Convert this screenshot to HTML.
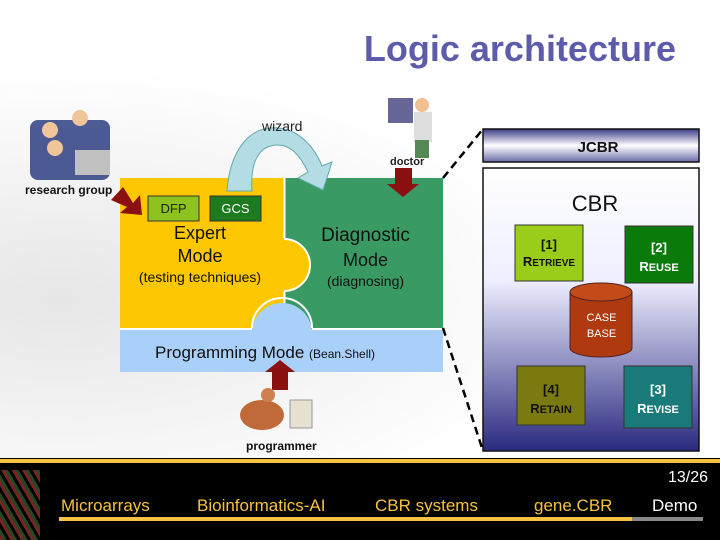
<!DOCTYPE html>
<html><head><meta charset="utf-8"><style>
body{margin:0;width:720px;height:540px;overflow:hidden;background:#fff;font-family:"Liberation Sans",sans-serif;position:relative}
.a{position:absolute}
</style></head><body>
<div class="a" style="left:0;top:0;width:720px;height:458px;background:radial-gradient(ellipse at 60px 300px,#e6e6e6,#fff 55%)"></div>
<div class="a" style="left:280px;top:28px;width:396px;text-align:right;font-size:36px;font-weight:bold;color:#5c5cab">Logic architecture</div>
<svg class="a" style="left:0;top:0" width="720" height="540">
<defs>
<linearGradient id="g1" x1="0" y1="0" x2="0" y2="1"><stop offset="0" stop-color="#fff"/><stop offset="0.4" stop-color="#eef" /><stop offset="1" stop-color="#2a2a80"/></linearGradient>
<linearGradient id="g2" x1="0" y1="0" x2="0" y2="1"><stop offset="0" stop-color="#3a3a88"/><stop offset="0.5" stop-color="#fff"/><stop offset="1" stop-color="#6a6aa8"/></linearGradient>
</defs>
<rect x="120" y="178" width="165" height="152" fill="#fdc700"/>
<rect x="284" y="178" width="159" height="152" fill="#3a9a64"/>
<circle cx="284" cy="265" r="26" fill="#fdc700"/>
<line x1="284.5" y1="178" x2="284.5" y2="238" stroke="#fff" stroke-width="2"/>
<line x1="284.5" y1="292" x2="284.5" y2="330" stroke="#fff" stroke-width="2"/>
<path d="M284 239 A26 26 0 0 1 284 291" fill="none" stroke="#fff" stroke-width="2"/>
<rect x="120" y="329" width="323" height="43" fill="#a8d0f8"/>
<circle cx="282" cy="333" r="30" fill="#a8d0f8"/>
<path d="M252 328 A30 30 0 0 1 312 328" fill="none" stroke="#fff" stroke-width="2"/>
<line x1="120" y1="329" x2="252" y2="329" stroke="#fff" stroke-width="2"/>
<line x1="312" y1="329" x2="443" y2="329" stroke="#fff" stroke-width="2"/>
<rect x="148" y="196" width="51" height="25" fill="#8dc21f" stroke="#333"/>
<rect x="210" y="196" width="51" height="25" fill="#1e7a1e" stroke="#333"/>
<path d="M227 191 C230 150 250 125 278 128 C300 130 315 148 322 166 L332 162 L323 190 L298 178 L308 172 C300 155 290 145 278 145 C260 145 250 160 252 191 Z" fill="#b4dce4" stroke="#6aa" stroke-width="1"/>
<path d="M395 168 H412 V184 H419 L403 197 L387 184 H395 Z" fill="#8b1010"/>
<path d="M111 200 L123 187 L133 203 L140 195 L142 215 L120 213 L127 207 Z" fill="#8b1010"/>
<path d="M272 390 H288 V372 H295 L280 360 L265 372 H272 Z" fill="#8b1010"/>
<line x1="443" y1="178" x2="483" y2="129" stroke="#000" stroke-width="2.5" stroke-dasharray="8,5"/>
<line x1="443" y1="328" x2="483" y2="451" stroke="#000" stroke-width="2.5" stroke-dasharray="8,5"/>
<rect x="483" y="129" width="216" height="33" fill="url(#g2)" stroke="#111" stroke-width="1.5"/>
<rect x="483" y="168" width="216" height="283" fill="url(#g1)" stroke="#111" stroke-width="1.5"/>
<rect x="515" y="225" width="68" height="56" fill="#9acd1a" stroke="#333"/>
<rect x="625" y="226" width="68" height="57" fill="#0a7a0a" stroke="#333"/>
<rect x="517" y="366" width="68" height="59" fill="#7a7a10" stroke="#333"/>
<rect x="624" y="366" width="68" height="62" fill="#1a7a7a" stroke="#333"/>
<path d="M570 292 V348 A31 9 0 0 0 632 348 V292" fill="#b03a10" stroke="#522"/>
<ellipse cx="601" cy="292" rx="31" ry="9" fill="#c44a1a" stroke="#522"/>
<g opacity="0.9"><rect x="30" y="120" width="80" height="60" rx="8" fill="#3a4a8a"/><circle cx="50" cy="130" r="8" fill="#f0c090"/><circle cx="80" cy="118" r="8" fill="#f0c090"/><circle cx="55" cy="148" r="8" fill="#f0c090"/><rect x="75" y="150" width="35" height="25" fill="#bbb"/></g>
<g><rect x="388" y="98" width="25" height="25" fill="#669"/><circle cx="422" cy="105" r="7" fill="#f0c090"/><rect x="414" y="112" width="18" height="30" fill="#ddd"/><rect x="415" y="140" width="14" height="18" fill="#585"/></g>
<g><ellipse cx="262" cy="415" rx="22" ry="15" fill="#c06a3a"/><circle cx="268" cy="395" r="7" fill="#d08050"/><rect x="290" y="400" width="22" height="28" fill="#e8e0d0" stroke="#999"/></g>
</svg>
<div class="a" style="left:262px;top:118px;font-size:14px;color:#222">wizard</div>
<div class="a" style="left:390px;top:156px;font-size:11px;font-weight:bold;color:#222">doctor</div>
<div class="a" style="left:25px;top:183px;font-size:12px;font-weight:bold;color:#111">research group</div>
<div class="a" style="left:246px;top:439px;font-size:12px;font-weight:bold;color:#111">programmer</div>
<div class="a" style="left:148px;top:201px;width:51px;text-align:center;font-size:13px;color:#222">DFP</div>
<div class="a" style="left:210px;top:201px;width:51px;text-align:center;font-size:13px;color:#fff">GCS</div>
<div class="a" style="left:120px;top:222px;width:160px;text-align:center;font-size:18px;line-height:23px;color:#111">Expert<br>Mode</div>
<div class="a" style="left:120px;top:269px;width:160px;text-align:center;font-size:14px;color:#111">(testing techniques)</div>
<div class="a" style="left:303px;top:223px;width:125px;text-align:center;font-size:19px;line-height:25px;color:#111">Diagnostic<br><span style="font-size:18px">Mode</span></div>
<div class="a" style="left:303px;top:273px;width:125px;text-align:center;font-size:14px;color:#111">(diagnosing)</div>
<div class="a" style="left:155px;top:343px;font-size:17px;color:#111">Programming Mode <span style="font-size:12px">(Bean.Shell)</span></div>
<div class="a" style="left:483px;top:139px;width:230px;text-align:center;font-size:15px;font-weight:bold;color:#111">JCBR</div>
<div class="a" style="left:483px;top:191px;width:224px;text-align:center;font-size:22px;color:#111">CBR</div>
<div class="a" style="left:515px;top:236px;width:68px;text-align:center;font-size:13px;line-height:17px;font-weight:bold;color:#111">[1]<br>R<span style="font-size:10px">ETRIEVE</span></div>
<div class="a" style="left:625px;top:238px;width:68px;text-align:center;font-size:13px;line-height:19px;font-weight:bold;color:#fff">[2]<br>R<span style="font-size:11px">EUSE</span></div>
<div class="a" style="left:570px;top:310px;width:63px;text-align:center;font-size:11px;line-height:16px;color:#fff">CASE<br>BASE</div>
<div class="a" style="left:517px;top:380px;width:68px;text-align:center;font-size:13px;line-height:19px;font-weight:bold;color:#111">[4]<br>R<span style="font-size:11px">ETAIN</span></div>
<div class="a" style="left:624px;top:380px;width:68px;text-align:center;font-size:13px;line-height:19px;font-weight:bold;color:#fff">[3]<br>R<span style="font-size:11px">EVISE</span></div>
<div class="a" style="left:0;top:458px;width:720px;height:82px;background:#000"></div>
<div class="a" style="left:0;top:459px;width:720px;height:4px;background:#f5c242"></div>
<div class="a" style="left:0;top:470px;width:40px;height:70px;background:repeating-linear-gradient(60deg,#a33 0 3px,#363 3px 6px,#000 6px 9px);opacity:.7"></div>
<div class="a" style="left:668px;top:469px;font-size:16px;color:#fff">13/26</div>
<div class="a" style="left:61px;top:496px;font-size:17px;color:#f5c242">Microarrays</div>
<div class="a" style="left:197px;top:496px;font-size:17px;color:#f5c242">Bioinformatics-AI</div>
<div class="a" style="left:375px;top:496px;font-size:17px;color:#f5c242">CBR systems</div>
<div class="a" style="left:534px;top:496px;font-size:17px;color:#f5c242">gene.CBR</div>
<div class="a" style="left:652px;top:496px;font-size:17px;color:#fff">Demo</div>
<div class="a" style="left:59px;top:517px;width:573px;height:4px;background:#f5c242"></div>
<div class="a" style="left:632px;top:517px;width:71px;height:4px;background:#888"></div>
</body></html>
